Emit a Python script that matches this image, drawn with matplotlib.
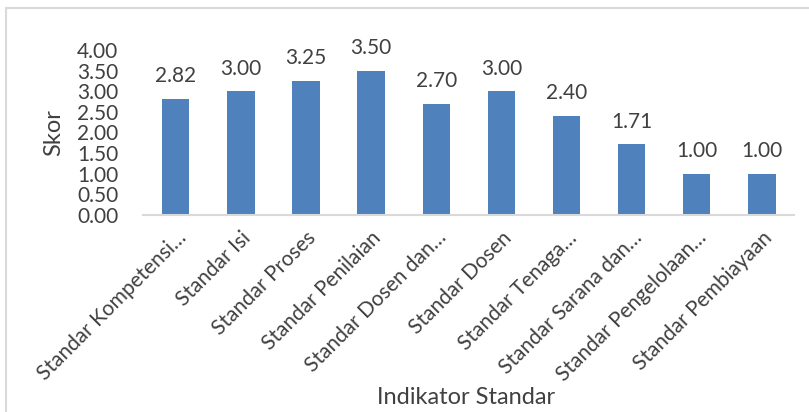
import matplotlib.pyplot as plt
from matplotlib.patches import Rectangle

categories = ['Standar Kompetensi…', 'Standar Isi', 'Standar Proses', 'Standar Penilaian',
              'Standar Dosen dan…', 'Standar Dosen', 'Standar Tenaga…', 'Standar Sarana dan…',
              'Standar Pengelolaan…', 'Standar Pembiayaan']
skor = [2.82, 3.00, 3.25, 3.50, 2.70, 3.00, 2.40, 1.71, 1.00, 1.00]
yticks = [0, 0.5, 1.0, 1.5, 2.0, 2.5, 3.0, 3.5, 4.0]

plt.rcParams['font.family'] = ['Lato', 'DejaVu Sans']
txt = '#404040'

fig = plt.figure(figsize=(8.09, 4.12), dpi=100)
ax = fig.add_axes([0.177, 0.478, 0.805, 0.401])

x = range(len(categories))
bars = ax.bar(x, skor, width=0.42, color='#4F81BD')
for b, v in zip(bars, skor):
    ax.annotate('%.2f' % v, (b.get_x() + b.get_width() / 2, v), xytext=(0, 9),
                textcoords='offset points', ha='center', va='bottom',
                fontsize=15, color=txt)

ax.set_xlim(-0.5, len(categories) - 0.5)
ax.set_ylim(0, 4)
ax.set_yticks(yticks)
ax.set_yticklabels(['%.2f' % t for t in yticks], fontsize=15, color=txt)
ax.set_xticks(list(x))
ax.set_xticklabels(categories, rotation=45, ha='right', rotation_mode='anchor',
                   fontsize=15, color=txt)
ax.tick_params(axis='both', length=0)
ax.tick_params(axis='y', pad=18)
ax.tick_params(axis='x', pad=9)
for s in ['top', 'right', 'left']:
    ax.spines[s].set_visible(False)
ax.spines['bottom'].set_color('#D9D9D9')
ax.spines['bottom'].set_linewidth(1.5)

ax.set_ylabel('Skor', fontsize=17, color=txt)
ax.yaxis.set_label_coords(-0.122, 0.5)
fig.text(0.576, 0.036, 'Indikator Standar', ha='center', va='center', fontsize=17, color=txt)

fig.patches.append(Rectangle((0.007, -0.01), 1.1, 0.99, transform=fig.transFigure,
                             fill=False, edgecolor='#D9D9D9', linewidth=1.5))

fig.savefig('out.png', dpi=100)
